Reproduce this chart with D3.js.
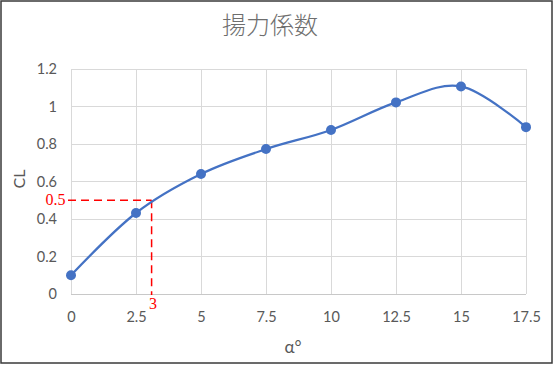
<!DOCTYPE html>
<html><head><meta charset="utf-8">
<script src="https://cdn.jsdelivr.net/npm/d3@7"></script>
<style>body{margin:0;background:#fff}svg{display:block}</style>
</head><body>
<svg id="c" width="554" height="365"></svg>
<script>
const alphaDeg = [0, 2.5, 5, 7.5, 10, 12.5, 15, 17.5];
const clValues = [0.10, 0.432, 0.64, 0.773, 0.875, 1.022, 1.107, 0.89];
const xTicks = [0, 2.5, 5, 7.5, 10, 12.5, 15, 17.5];
const yTicks = [0, 0.2, 0.4, 0.6, 0.8, 1, 1.2];
const refPoint = [3.1, 0.5];
const refLabels = ["3", "0.5"];
const titleText = "揚力係数";
const xTitle = "α°";
const yTitle = "CL";

const svg = d3.select("#c");
const x = d3.scaleLinear().domain([0, 17.5]).range([71, 526]);
const y = d3.scaleLinear().domain([0, 1.2]).range([294, 69]);
const gray = "#595959";
const sans = "Lato, 'Liberation Sans', Arial, sans-serif";
const fs = 14.5;

svg.append("rect").attr("x", 1).attr("y", 1).attr("width", 551).attr("height", 362)
  .attr("fill", "#fff").attr("stroke", "#3a3a3a").attr("stroke-width", 1.5);

// gridlines
svg.append("g").selectAll("line").data(yTicks).join("line")
  .attr("x1", x(0)).attr("x2", x(17.5)).attr("y1", d => y(d)).attr("y2", d => y(d))
  .attr("stroke", d => d === 0 ? "#c8c8c8" : "#d9d9d9").attr("stroke-width", 1).attr("shape-rendering", "crispEdges");
svg.append("g").selectAll("line").data(xTicks).join("line")
  .attr("x1", d => x(d)).attr("x2", d => x(d)).attr("y1", y(0)).attr("y2", y(1.2))
  .attr("stroke", "#d9d9d9").attr("stroke-width", 1).attr("shape-rendering", "crispEdges");

// axes labels via d3 axes
const ax = svg.append("g").attr("transform", `translate(0,${y(0)})`)
  .call(d3.axisBottom(x).tickValues(xTicks).tickSize(0).tickPadding(17.5).tickFormat(d => String(d)));
ax.select(".domain").remove();
ax.selectAll("text").attr("fill", gray).attr("font-size", fs).attr("font-family", sans);

const ay = svg.append("g").attr("transform", `translate(${x(0)},0)`)
  .call(d3.axisLeft(y).tickValues(yTicks).tickSize(0).tickPadding(14).tickFormat(d => String(d)));
ay.select(".domain").remove();
ay.selectAll("text").attr("fill", gray).attr("font-size", fs).attr("font-family", sans);

// titles
svg.append("text").attr("x", 270).attr("y", 34).attr("text-anchor", "middle")
  .attr("font-family", "'Noto Sans CJK JP', sans-serif").attr("font-size", 24).attr("fill", "#6e6e6e")
  .attr("font-weight", 300).text(titleText);
svg.append("text").attr("x", 293).attr("y", 353).attr("text-anchor", "middle")
  .attr("font-family", sans).attr("font-size", 17).attr("fill", gray).text(xTitle);
svg.append("text").attr("transform", "translate(25,179) rotate(-90)").attr("text-anchor", "middle")
  .attr("font-family", sans).attr("font-size", 16).attr("fill", gray).text(yTitle);

// reference dashed lines
const red = "#ff0000";
svg.append("line").attr("x1", 68).attr("x2", x(refPoint[0])).attr("y1", y(refPoint[1])).attr("y2", y(refPoint[1]))
  .attr("stroke", red).attr("stroke-width", 1.5).attr("stroke-dasharray", "8,5");
svg.append("line").attr("x1", x(refPoint[0])).attr("x2", x(refPoint[0])).attr("y1", y(refPoint[1])).attr("y2", y(0) + 1)
  .attr("stroke", red).attr("stroke-width", 1.5).attr("stroke-dasharray", "8,5");
svg.append("text").attr("x", x(refPoint[0]) + 1.5).attr("y", 309).attr("text-anchor", "middle")
  .attr("font-family", "'Liberation Serif', 'DejaVu Serif', serif").attr("font-size", 16).attr("fill", red).text(refLabels[0]);
svg.append("text").attr("x", 65.5).attr("y", y(refPoint[1]) + 5).attr("text-anchor", "end")
  .attr("font-family", "'Liberation Serif', 'DejaVu Serif', serif").attr("font-size", 16).attr("fill", red).text(refLabels[1]);

// series
const pts = alphaDeg.map((a, i) => [a, clValues[i]]);
const line = d3.line().x(d => x(d[0])).y(d => y(d[1])).curve(d3.curveCatmullRom.alpha(0));
svg.append("path").datum(pts).attr("d", line).attr("fill", "none")
  .attr("stroke", "#4472c4").attr("stroke-width", 2.25);
svg.append("g").selectAll("circle").data(pts).join("circle")
  .attr("cx", d => x(d[0])).attr("cy", d => y(d[1])).attr("r", 5).attr("fill", "#4472c4");
</script>
</body></html>
